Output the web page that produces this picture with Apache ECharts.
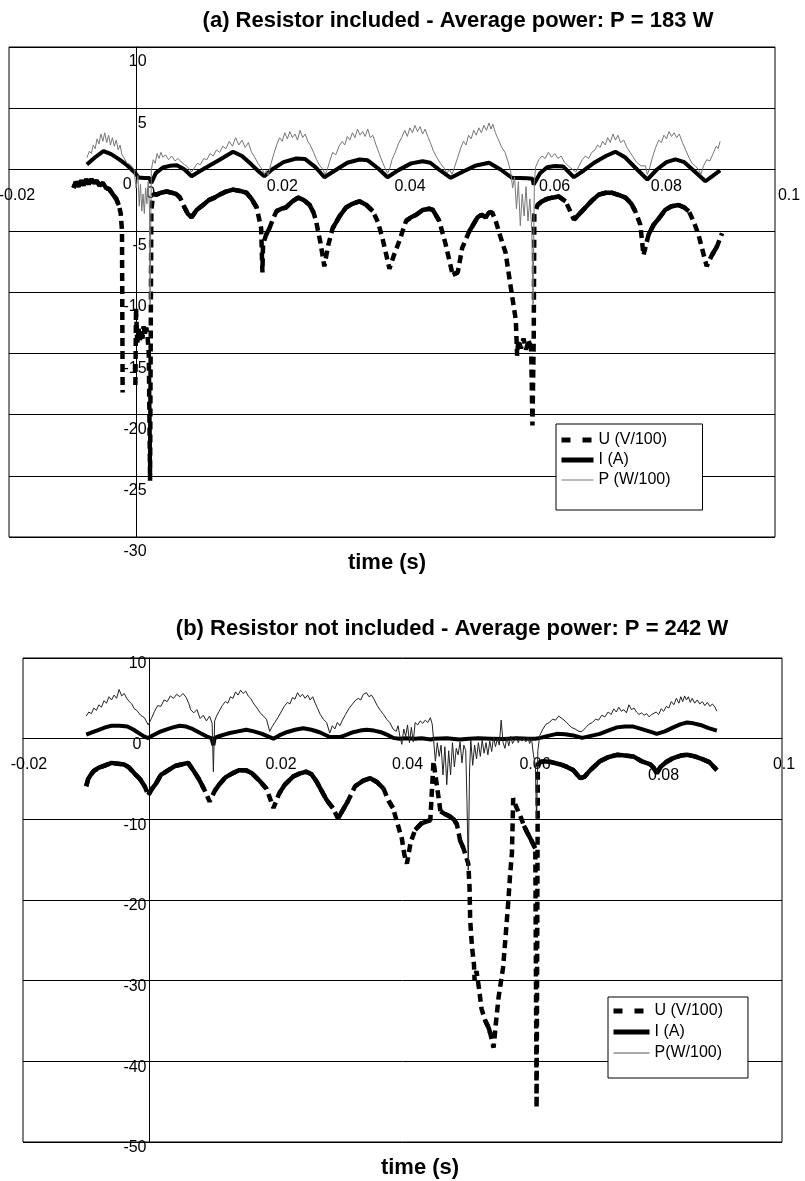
<!DOCTYPE html>
<html>
  <head>
    <meta charset="utf-8" />
    <title>Resistor included / not included</title>
    <script src="https://cdn.jsdelivr.net/npm/echarts@6.0.0/dist/echarts.min.js"></script>
    <style>body { margin: 0; background: #fff; }</style>
  </head>
  <body>
    <div id="chart" style="width: 805px; height: 1181px;"></div>
    <script type="text/javascript">
      // ---- data: [time (s), value] ----

      // (a) resistor included
      var uA = [[-0.0099,-1.5],[-0.0095,-1.0],[-0.0091,-1.4],[-0.0087,-0.9],[-0.0083,-1.3],[-0.0079,-0.8],[-0.0075,-1.2],
        [-0.0071,-0.8],[-0.0067,-1.1],[-0.0063,-0.9],[-0.0058,-1.3],[-0.0053,-1.1],[-0.0048,-1.5],[-0.0043,-1.6],
        [-0.0037,-2.05],[-0.0032,-2.4],[-0.0028,-2.9],[-0.0025,-3.6],[-0.0023,-5.0],[-0.0022,-18.2],[-0.0012,null],
        [-0.0002,-17.6],[-0.0001,-11.3],[0.0001,-14.3],[0.0003,-13.0],[0.0005,-14.0],[0.0007,-13.2],[0.0009,-13.8],
        [0.0011,-12.8],[0.0013,-13.4],[0.0015,-12.9],[0.0017,-13.6],[0.0019,-15.0],[0.0021,-25.4],[0.0022,-14.0],
        [0.0023,-3.3],[0.0026,-2.0],[0.0031,-2.05],[0.0038,-1.9],[0.0047,-1.8],[0.0055,-1.9],[0.0062,-2.0],
        [0.0068,-2.3],[0.0074,-3.0],[0.0080,-3.6],[0.0086,-3.9],[0.0094,-3.3],[0.0104,-2.9],[0.0113,-2.5],
        [0.0122,-2.3],[0.0130,-2.05],[0.0140,-1.8],[0.0151,-1.64],[0.0162,-1.75],[0.0172,-1.9],[0.0180,-2.4],
        [0.0188,-3.1],[0.0195,-4.8],[0.0197,-8.4],[0.0198,-6.1],[0.0203,-5.3],[0.0208,-4.8],[0.0214,-4.0],
        [0.0219,-3.4],[0.0227,-3.2],[0.0234,-3.1],[0.0244,-2.6],[0.0253,-2.3],[0.0262,-2.5],[0.0271,-2.9],
        [0.0277,-3.5],[0.0281,-4.2],[0.0288,-6.0],[0.0294,-7.9],[0.0300,-6.2],[0.0307,-4.8],[0.0318,-3.8],
        [0.0328,-3.1],[0.0338,-2.8],[0.0349,-2.6],[0.0360,-2.9],[0.0370,-3.4],[0.0378,-4.3],[0.0385,-5.6],
        [0.0396,-8.1],[0.0403,-7.0],[0.0411,-5.9],[0.0422,-4.2],[0.0430,-3.9],[0.0438,-3.7],[0.0448,-3.3],
        [0.0458,-3.2],[0.0464,-3.3],[0.0474,-4.2],[0.0484,-6.1],[0.0495,-8.6],[0.0503,-8.4],[0.0510,-6.4],
        [0.0521,-5.05],[0.0534,-3.9],[0.0540,-3.7],[0.0547,-3.9],[0.0552,-3.5],[0.0557,-3.5],[0.0563,-4.3],
        [0.0570,-5.5],[0.0578,-6.8],[0.0586,-9.6],[0.0594,-12.3],[0.0596,-15.2],[0.0598,-13.9],[0.0602,-14.6],
        [0.0606,-13.8],[0.0610,-14.7],[0.0614,-14.0],[0.0618,-14.5],[0.0620,-20.9],[0.0622,-14.0],[0.0623,-3.7],
        [0.0628,-2.9],[0.0635,-2.6],[0.0643,-2.4],[0.0651,-2.3],[0.0661,-2.2],[0.0672,-2.6],[0.0680,-3.5],
        [0.0685,-4.1],[0.0694,-3.6],[0.0703,-3.1],[0.0714,-2.5],[0.0724,-2.05],[0.0735,-1.9],[0.0745,-1.9],
        [0.0756,-2.1],[0.0766,-2.3],[0.0775,-2.8],[0.0781,-3.4],[0.0789,-4.5],[0.0794,-7.0],[0.0802,-5.3],
        [0.0810,-4.5],[0.0818,-4.0],[0.0828,-3.3],[0.0838,-3.0],[0.0849,-2.9],[0.0858,-3.1],[0.0865,-3.4],
        [0.0873,-4.3],[0.0880,-5.3],[0.0893,-7.9],[0.0901,-7.0],[0.0909,-6.3],[0.0917,-5.2]];

      var iA = [[-0.0078,0.41],[-0.0065,1.0],[-0.0052,1.5],[-0.0040,1.25],[-0.0028,0.85],[-0.0015,0.35],[-0.0003,-0.25],
        [0.0003,-0.65],[0.0012,-0.7],[0.0020,-0.7],[0.0023,-1.1],[0.0030,-0.3],[0.0041,0.16],[0.0052,0.3],
        [0.0063,0.35],[0.0075,0.0],[0.0086,-0.55],[0.0100,-0.1],[0.0115,0.35],[0.0130,0.8],[0.0151,1.45],
        [0.0165,1.1],[0.0180,0.4],[0.0192,-0.2],[0.0200,-0.55],[0.0212,0.0],[0.0230,0.6],[0.0250,0.9],
        [0.0264,0.85],[0.0280,0.2],[0.0294,-0.63],[0.0310,-0.1],[0.0330,0.55],[0.0349,0.82],[0.0362,0.75],
        [0.0378,0.1],[0.0393,-0.63],[0.0410,-0.05],[0.0430,0.5],[0.0448,0.68],[0.0460,0.55],[0.0476,-0.1],
        [0.0492,-0.68],[0.0510,-0.2],[0.0530,0.3],[0.0552,0.55],[0.0570,0.0],[0.0588,-0.68],[0.0600,-0.7],
        [0.0612,-0.72],[0.0620,-0.75],[0.0622,-1.23],[0.0632,-0.3],[0.0643,0.19],[0.0655,0.29],[0.0668,0.25],
        [0.0685,-0.63],[0.0700,-0.1],[0.0718,0.6],[0.0735,1.1],[0.0750,1.45],[0.0765,1.0],[0.0782,0.1],
        [0.0800,-0.82],[0.0815,0.0],[0.0830,0.6],[0.0844,0.82],[0.0858,0.6],[0.0875,-0.2],[0.0891,-0.96],
        [0.0903,-0.5],[0.0914,-0.08]];

      var pA = [[-0.0078,0.96],[-0.0074,1.5],[-0.0071,1.3],[-0.0068,2.0],[-0.0065,1.7],[-0.0062,2.5],[-0.0059,2.1],
        [-0.0056,2.9],[-0.0053,2.3],[-0.0050,3.0],[-0.0047,2.2],[-0.0044,2.8],[-0.0041,2.0],[-0.0038,2.6],
        [-0.0035,1.9],[-0.0032,2.4],[-0.0029,1.6],[-0.0026,2.0],[-0.0023,1.2],[-0.0020,0.96],[-0.0015,0.5],
        [-0.0010,0.4],[-0.0004,0.0],[-0.0001,-1.5],[0.0002,-0.5],[0.0004,-3.0],[0.0006,-1.2],[0.0008,-3.4],
        [0.0010,-2.0],[0.0012,-3.6],[0.0014,-1.5],[0.0016,-2.8],[0.0018,-1.0],[0.0020,-3.0],[0.0021,-11.0],
        [0.0022,-4.8],[0.0023,0.0],[0.0026,0.8],[0.0029,0.5],[0.0032,1.3],[0.0035,0.9],[0.0038,1.4],[0.0041,1.0],
        [0.0045,1.2],[0.0050,0.8],[0.0055,1.1],[0.0060,0.7],[0.0065,0.9],[0.0070,0.6],[0.0075,0.4],[0.0080,0.2],
        [0.0086,-0.2],[0.0090,0.1],[0.0095,0.5],[0.0100,0.4],[0.0105,0.9],[0.0110,0.8],[0.0115,1.3],[0.0120,1.1],
        [0.0125,1.6],[0.0130,1.4],[0.0135,1.9],[0.0140,1.7],[0.0145,2.3],[0.0150,1.9],[0.0155,2.6],[0.0160,2.0],
        [0.0165,2.4],[0.0170,1.8],[0.0175,2.2],[0.0180,1.4],[0.0185,1.0],[0.0190,0.5],[0.0197,0.0],[0.0200,-0.4],
        [0.0203,-0.1],[0.0206,-0.5],[0.0210,0.4],[0.0215,1.3],[0.0220,2.1],[0.0224,2.6],[0.0228,2.3],[0.0232,3.0],
        [0.0236,2.5],[0.0240,3.1],[0.0244,2.6],[0.0248,2.9],[0.0252,2.4],[0.0256,3.2],[0.0260,2.6],[0.0264,2.9],
        [0.0268,2.3],[0.0272,2.0],[0.0277,1.4],[0.0282,0.8],[0.0287,0.3],[0.0292,0.0],[0.0295,-0.4],[0.0298,-0.1],
        [0.0302,0.6],[0.0307,1.4],[0.0312,1.2],[0.0317,1.9],[0.0322,2.3],[0.0326,2.0],[0.0330,2.7],[0.0334,2.4],
        [0.0338,3.0],[0.0342,2.6],[0.0346,3.3],[0.0350,2.8],[0.0354,3.1],[0.0358,2.7],[0.0362,3.3],[0.0366,2.6],
        [0.0370,2.8],[0.0375,2.0],[0.0380,1.3],[0.0385,0.6],[0.0390,0.0],[0.0393,-0.3],[0.0396,0.0],[0.0400,0.8],
        [0.0405,1.4],[0.0410,2.1],[0.0415,2.6],[0.0420,3.2],[0.0424,2.7],[0.0428,3.4],[0.0432,3.0],[0.0436,3.6],
        [0.0440,3.1],[0.0444,3.5],[0.0448,2.9],[0.0452,3.3],[0.0456,2.7],[0.0460,2.2],[0.0465,1.5],[0.0470,1.0],
        [0.0476,0.5],[0.0482,0.1],[0.0486,-0.3],[0.0490,0.0],[0.0494,-0.4],[0.0498,0.2],[0.0503,1.0],[0.0508,1.8],
        [0.0512,2.3],[0.0516,2.0],[0.0520,2.8],[0.0524,2.5],[0.0528,3.2],[0.0532,2.8],[0.0536,3.4],[0.0540,3.0],
        [0.0544,3.6],[0.0548,3.2],[0.0552,3.8],[0.0555,3.3],[0.0558,3.7],[0.0562,3.0],[0.0567,2.4],[0.0572,1.8],
        [0.0577,1.4],[0.0582,0.6],[0.0586,-0.2],[0.0589,-1.5],[0.0592,-0.6],[0.0595,-3.2],[0.0598,-1.0],
        [0.0601,-4.6],[0.0604,-2.0],[0.0607,-3.8],[0.0610,-1.4],[0.0613,-4.2],[0.0616,-2.4],[0.0619,-5.0],
        [0.0621,-11.0],[0.0623,-1.0],[0.0625,0.2],[0.0630,0.8],[0.0635,1.1],[0.0640,0.9],[0.0645,1.4],[0.0650,1.0],
        [0.0655,1.3],[0.0660,0.9],[0.0665,1.1],[0.0670,0.6],[0.0676,0.3],[0.0683,0.0],[0.0688,-0.2],[0.0693,0.3],
        [0.0698,0.8],[0.0703,1.1],[0.0708,0.9],[0.0713,1.4],[0.0718,1.6],[0.0722,2.0],[0.0726,1.8],[0.0730,2.3],
        [0.0734,2.0],[0.0738,2.6],[0.0742,2.2],[0.0746,2.9],[0.0750,2.4],[0.0754,2.8],[0.0758,2.2],[0.0763,2.4],
        [0.0768,1.8],[0.0773,1.4],[0.0778,1.0],[0.0783,0.6],[0.0790,0.3],[0.0797,0.3],[0.0800,-0.4],[0.0803,0.0],
        [0.0808,1.0],[0.0813,1.8],[0.0818,2.4],[0.0822,2.2],[0.0826,2.8],[0.0830,2.5],[0.0834,3.1],[0.0838,2.7],
        [0.0842,3.0],[0.0846,2.6],[0.0850,2.9],[0.0855,2.2],[0.0860,1.6],[0.0865,1.0],[0.0870,0.5],[0.0875,0.3],
        [0.0880,0.0],[0.0884,-0.4],[0.0888,0.3],[0.0893,0.8],[0.0898,0.7],[0.0903,1.3],[0.0908,1.9],[0.0911,1.7],
        [0.0914,2.3]];

      // (b) resistor not included
      var uB = [[-0.0100,-5.9],[-0.0097,-5.0],[-0.0093,-4.5],[-0.0088,-4.0],[-0.0080,-3.6],[-0.0070,-3.3],[-0.0060,-3.0],
        [-0.0050,-3.1],[-0.0040,-3.2],[-0.0032,-3.6],[-0.0024,-4.3],[-0.0015,-5.0],[-0.0007,-6.0],[-0.0002,-7.0],
        [0.0004,-6.2],[0.0010,-5.6],[0.0018,-4.5],[0.0028,-4.0],[0.0040,-3.4],[0.0050,-3.2],[0.0061,-3.0],
        [0.0070,-4.0],[0.0078,-5.0],[0.0086,-6.2],[0.0095,-7.8],[0.0103,-6.5],[0.0110,-5.7],[0.0120,-4.8],
        [0.0131,-4.3],[0.0142,-3.9],[0.0152,-3.9],[0.0162,-4.3],[0.0175,-5.3],[0.0185,-6.2],[0.0196,-8.6],
        [0.0205,-6.8],[0.0214,-5.7],[0.0227,-4.7],[0.0238,-4.3],[0.0248,-4.1],[0.0256,-4.4],[0.0264,-5.3],
        [0.0280,-7.6],[0.0290,-8.6],[0.0298,-9.9],[0.0306,-8.8],[0.0314,-7.7],[0.0325,-5.9],[0.0338,-5.2],
        [0.0349,-4.9],[0.0360,-5.4],[0.0370,-6.2],[0.0378,-7.7],[0.0385,-8.6],[0.0392,-10.5],[0.0399,-12.4],
        [0.0403,-14.4],[0.0407,-15.5],[0.0413,-12.8],[0.0420,-11.3],[0.0430,-10.5],[0.0444,-10.1],[0.0449,-2.8],
        [0.0460,-9.0],[0.0466,-9.3],[0.0474,-9.6],[0.0481,-10.0],[0.0486,-10.6],[0.0491,-12.6],[0.0496,-13.5],
        [0.0500,-14.5],[0.0504,-15.5],[0.0506,-18.4],[0.0507,-22.5],[0.0510,-25.9],[0.0513,-28.0],[0.0514,-30.0],
        [0.0517,-28.8],[0.0521,-31.0],[0.0525,-33.5],[0.0531,-35.0],[0.0536,-35.8],[0.0539,-36.6],[0.0544,-38.3],
        [0.0548,-35.0],[0.0552,-32.0],[0.0559,-28.4],[0.0563,-24.5],[0.0567,-20.5],[0.0570,-17.0],[0.0573,-14.2],
        [0.0575,-7.4],[0.0580,-8.5],[0.0586,-9.5],[0.0592,-10.8],[0.0597,-11.6],[0.0603,-12.5],[0.0608,-13.3],
        [0.0610,-13.6],[0.0612,-45.8],[0.0614,-3.2],[0.0618,-2.9],[0.0623,-2.8],[0.0635,-2.9],[0.0650,-3.2],
        [0.0660,-3.5],[0.0670,-3.9],[0.0681,-4.9],[0.0688,-4.7],[0.0697,-3.9],[0.0712,-2.8],[0.0725,-2.3],
        [0.0739,-2.0],[0.0752,-2.1],[0.0765,-2.2],[0.0778,-2.8],[0.0792,-3.2],[0.0797,-3.6],[0.0802,-4.3],
        [0.0808,-3.5],[0.0817,-2.9],[0.0828,-2.4],[0.0840,-2.1],[0.0850,-2.0],[0.0862,-2.2],[0.0873,-2.5],
        [0.0885,-2.9],[0.0897,-3.9]];

      var iB = [[-0.0100,0.5],[-0.0090,0.8],[-0.0080,1.1],[-0.0070,1.4],[-0.0060,1.6],[-0.0047,1.6],[-0.0035,1.5],
        [-0.0025,1.1],[-0.0015,0.6],[-0.0008,0.25],[-0.0002,0.08],[0.0005,0.4],[0.0015,0.8],[0.0025,1.1],
        [0.0037,1.4],[0.0048,1.6],[0.0058,1.5],[0.0068,1.2],[0.0080,0.7],[0.0090,0.3],[0.0098,0.05],[0.0101,-0.8],
        [0.0103,0.1],[0.0110,0.3],[0.0118,0.5],[0.0127,0.7],[0.0140,0.9],[0.0153,1.1],[0.0165,0.9],[0.0178,0.6],
        [0.0190,0.2],[0.0196,0.0],[0.0205,0.4],[0.0217,0.8],[0.0230,1.1],[0.0243,1.3],[0.0256,1.1],[0.0269,0.8],
        [0.0285,0.2],[0.0301,0.2],[0.0312,0.5],[0.0322,0.8],[0.0333,1.0],[0.0343,1.1],[0.0355,1.0],[0.0366,0.8],
        [0.0378,0.4],[0.0385,0.1],[0.0395,0.0],[0.0405,0.05],[0.0420,0.0],[0.0430,0.05],[0.0445,-0.1],
        [0.0450,0.0],[0.0470,0.05],[0.0490,-0.1],[0.0505,0.0],[0.0520,0.05],[0.0540,0.0],[0.0560,-0.05],
        [0.0580,0.05],[0.0600,0.0],[0.0610,0.0],[0.0618,0.1],[0.0630,0.35],[0.0644,0.6],[0.0657,0.55],
        [0.0670,0.4],[0.0684,0.1],[0.0698,0.35],[0.0712,0.6],[0.0725,1.0],[0.0739,1.4],[0.0752,1.5],[0.0765,1.5],
        [0.0776,1.25],[0.0786,1.0],[0.0794,0.8],[0.0802,0.6],[0.0815,0.9],[0.0828,1.4],[0.0840,1.8],[0.0850,2.0],
        [0.0860,1.9],[0.0871,1.7],[0.0884,1.3],[0.0897,1.0]];

      var pB = [[-0.0100,2.8],[-0.0096,3.3],[-0.0092,3.1],[-0.0088,3.8],[-0.0084,3.5],[-0.0080,4.2],[-0.0076,3.9],
        [-0.0072,4.7],[-0.0068,4.4],[-0.0064,5.2],[-0.0060,4.8],[-0.0056,5.4],[-0.0052,5.0],[-0.0048,6.1],
        [-0.0044,5.3],[-0.0040,5.6],[-0.0036,5.0],[-0.0032,4.6],[-0.0028,4.3],[-0.0024,3.7],[-0.0020,3.5],
        [-0.0014,2.9],[-0.0008,2.6],[-0.0002,1.7],[0.0003,2.5],[0.0008,3.4],[0.0013,4.1],[0.0018,4.0],[0.0023,4.8],
        [0.0028,4.6],[0.0033,5.3],[0.0038,5.0],[0.0043,5.5],[0.0048,5.2],[0.0053,5.6],[0.0058,5.1],[0.0062,4.4],
        [0.0065,3.6],[0.0070,3.2],[0.0075,3.6],[0.0080,2.5],[0.0085,2.9],[0.0090,2.2],[0.0095,2.8],[0.0099,1.9],
        [0.0101,-4.1],[0.0103,2.2],[0.0106,2.8],[0.0110,3.4],[0.0115,4.1],[0.0120,4.6],[0.0124,4.4],[0.0128,5.2],
        [0.0132,5.0],[0.0136,5.8],[0.0140,5.4],[0.0144,6.0],[0.0148,5.6],[0.0152,5.9],[0.0156,5.3],[0.0160,5.0],
        [0.0165,4.3],[0.0170,3.8],[0.0175,3.2],[0.0180,2.8],[0.0185,2.4],[0.0190,0.9],[0.0194,1.5],[0.0198,2.0],
        [0.0203,2.6],[0.0208,3.3],[0.0213,4.0],[0.0218,4.5],[0.0222,4.3],[0.0226,5.1],[0.0230,4.9],[0.0234,5.7],
        [0.0238,5.2],[0.0242,5.5],[0.0246,5.0],[0.0250,5.4],[0.0254,4.8],[0.0258,5.2],[0.0262,4.4],[0.0266,3.7],
        [0.0270,3.0],[0.0275,2.4],[0.0280,2.0],[0.0285,0.7],[0.0289,1.6],[0.0293,1.2],[0.0297,2.0],[0.0301,1.6],
        [0.0305,2.3],[0.0310,3.0],[0.0315,3.7],[0.0320,4.2],[0.0325,4.7],[0.0330,5.0],[0.0334,4.8],[0.0338,5.5],
        [0.0343,5.7],[0.0347,5.2],[0.0351,5.4],[0.0355,4.9],[0.0360,4.1],[0.0365,3.5],[0.0370,3.0],[0.0375,2.4],
        [0.0380,2.0],[0.0385,1.2],[0.0390,0.9],[0.0393,1.6],[0.0396,0.2],[0.0399,-0.7],[0.0402,1.2],[0.0405,0.3],
        [0.0408,1.7],[0.0411,-0.5],[0.0414,1.4],[0.0417,-0.4],[0.0420,2.0],[0.0424,1.7],[0.0428,2.2],[0.0432,1.9],
        [0.0436,2.3],[0.0440,2.0],[0.0444,2.6],[0.0447,1.8],[0.0449,0.0],[0.0452,-2.8],[0.0455,-0.5],[0.0458,-2.2],
        [0.0461,-0.8],[0.0464,-4.5],[0.0467,-1.0],[0.0470,-5.7],[0.0473,-1.5],[0.0476,-4.5],[0.0479,-0.5],
        [0.0482,-3.5],[0.0485,-1.2],[0.0488,-2.0],[0.0491,-0.4],[0.0494,-3.0],[0.0497,-0.8],[0.0500,-1.5],
        [0.0502,-8.0],[0.0504,-16.3],[0.0506,-4.0],[0.0508,-0.2],[0.0511,-3.3],[0.0514,-0.8],[0.0517,-2.5],
        [0.0520,-0.5],[0.0523,-2.2],[0.0526,-0.2],[0.0529,-1.8],[0.0532,-0.5],[0.0535,-2.0],[0.0538,-0.3],
        [0.0541,-1.6],[0.0544,0.2],[0.0547,-1.0],[0.0550,0.0],[0.0553,-0.8],[0.0556,2.3],[0.0559,-0.5],
        [0.0562,-1.2],[0.0565,0.2],[0.0568,-0.9],[0.0571,0.3],[0.0574,-0.6],[0.0577,-0.2],[0.0580,0.3],
        [0.0583,-0.5],[0.0586,0.1],[0.0589,-0.3],[0.0592,0.1],[0.0595,-0.4],[0.0598,0.2],[0.0601,-0.6],[0.0604,0.0],
        [0.0607,-2.0],[0.0610,-3.2],[0.0612,-10.0],[0.0614,-1.5],[0.0617,0.4],[0.0622,1.2],[0.0627,1.8],
        [0.0632,2.0],[0.0637,2.4],[0.0642,2.3],[0.0647,2.8],[0.0652,2.5],[0.0657,2.2],[0.0662,1.8],[0.0667,1.4],
        [0.0673,1.2],[0.0679,0.9],[0.0684,0.9],[0.0690,1.4],[0.0695,1.8],[0.0700,2.0],[0.0705,2.4],[0.0710,2.3],
        [0.0715,2.9],[0.0720,2.7],[0.0725,3.3],[0.0730,3.0],[0.0734,3.7],[0.0738,3.3],[0.0742,3.9],[0.0746,3.4],
        [0.0750,3.6],[0.0754,3.2],[0.0758,4.2],[0.0762,3.6],[0.0766,3.8],[0.0770,3.3],[0.0774,3.0],[0.0778,3.2],
        [0.0782,2.9],[0.0786,3.1],[0.0790,2.7],[0.0794,3.0],[0.0797,2.8],[0.0801,3.3],[0.0805,3.0],[0.0809,3.7],
        [0.0813,3.4],[0.0817,4.0],[0.0821,3.8],[0.0825,4.6],[0.0829,4.2],[0.0833,5.0],[0.0837,4.4],[0.0840,5.2],
        [0.0843,4.6],[0.0846,5.3],[0.0849,4.8],[0.0852,5.2],[0.0855,4.5],[0.0858,5.0],[0.0862,4.4],[0.0866,4.8],
        [0.0870,4.3],[0.0874,4.6],[0.0878,4.1],[0.0882,4.5],[0.0886,4.0],[0.0890,4.3],[0.0894,3.9],[0.0897,3.4]];

      // tick labels
      var xLabelsA = ['-0.02', '0', '0.02', '0.04', '0.06', '0.08', '0.1'];
      var xLabelsB = ['-0.02', '', '0.02', '0.04', '0.06', '0.08', '0.1'];
      var legendA = ['U (V/100)', 'I (A)', 'P (W/100)'];
      var legendB = ['U (V/100)', 'I (A)', 'P(W/100)'];

      // ---- layout ----
      var FONT = '"Liberation Sans", Arial, sans-serif';
      var gridA = {left: 9, top: 47, width: 766, height: 490};
      var gridB = {left: 23, top: 658, width: 759, height: 484};
      // label nudges (px): horizontal shift of centre, extra drop below the axis
      var shiftA = [8, 14, 18, 18, 35, 19, 14], dropA = [18, 15, 0, 0, 0, 0, 18];
      var shiftB = [6, 0, 5, 5, 6, 8, 2], dropB = [0, 0, 0, 0, 0, 22, 0];

      function richFor(shift, drop) {
        var r = {};
        for (var k = 0; k < shift.length; k++) {
          r['k' + k] = {
            fontSize: 16, fontFamily: FONT, color: '#000', lineHeight: 16,
            padding: [drop[k], shift[k] < 0 ? -2 * shift[k] : 0, 0, shift[k] > 0 ? 2 * shift[k] : 0]
          };
        }
        return r;
      }

      // Excel draws short segments of a dashed series solid; only the long steep
      // strokes show the dash. Keep the gentle segments for a solid overlay.
      function gentle(pts, sx, sy) {
        var out = [];
        for (var k = 1; k < pts.length; k++) {
          var a = pts[k - 1], b = pts[k];
          if (a[1] == null || b[1] == null) continue;
          var dx = (b[0] - a[0]) * sx, dy = (b[1] - a[1]) * sy;
          if (Math.abs(dy) > 2 * Math.abs(dx) && Math.sqrt(dx * dx + dy * dy) > 8) {
            out.push([a[0], null]);
            continue;
          }
          var last = out[out.length - 1];
          if (!last || last[1] == null || last[0] !== a[0]) out.push(a);
          out.push(b);
        }
        return out;
      }

      var solidA = gentle(uA, gridA.width / 0.12, gridA.height / 40);
      var solidB = gentle(uB, gridB.width / 0.12, gridB.height / 60);

      var titleStyle = {fontSize: 22, fontWeight: 'bold', fontFamily: FONT, color: '#000'};

      // axes cross at (0, 0): shift them in from the grid edge by the zero's position
      function xAxisFor(gi, labels, shift, drop, margin, upOffset) {
        return {
          type: 'value', gridIndex: gi, min: -0.02, max: 0.1, interval: 0.02,
          position: 'bottom', offset: -upOffset,
          axisLine: {onZero: false, lineStyle: {color: '#000', width: 1}},
          axisTick: {show: false},
          splitLine: {show: false},
          axisLabel: {
            showMinLabel: true, showMaxLabel: true, align: 'center', margin: margin,
            formatter: function (v, idx) {
              var t = labels[idx];
              return t ? '{k' + idx + '|' + t + '}' : '';
            },
            rich: richFor(shift, drop)
          }
        };
      }

      function yAxisFor(gi, min, max, step, margin, pad, zeroPad, inOffset) {
        return {
          type: 'value', gridIndex: gi, min: min, max: max, interval: step,
          position: 'left', offset: -inOffset,
          axisLine: {show: true, onZero: false, lineStyle: {color: '#000', width: 1}},
          axisTick: {show: false},
          splitLine: {show: true, lineStyle: {color: '#000', width: 1}},
          axisLabel: {
            showMinLabel: true, showMaxLabel: true, margin: margin, align: 'right',
            verticalAlign: 'middle', padding: [pad, 0, 0, 0],
            fontSize: 16, fontFamily: FONT, color: '#000',
            formatter: function (v) { return v === 0 ? '{z|0}' : String(v); },
            rich: {z: {fontSize: 16, fontFamily: FONT, color: '#000', padding: [0, zeroPad, 0, 0]}}
          }
        };
      }

      function line(name, data, gi, width, color, dashed) {
        return {
          name: name, type: 'line', xAxisIndex: gi, yAxisIndex: gi, data: data,
          symbol: 'none', showSymbol: false, connectNulls: false, silent: true,
          itemStyle: {color: color},
          lineStyle: {color: color, width: width, type: dashed ? [8, 5] : 'solid', cap: 'butt'},
          emphasis: {disabled: true}
        };
      }

      function legendFor(names, pColor, left, top, padding, itemWidth, gap) {
        return {
          orient: 'vertical', left: left, top: top, padding: padding,
          itemWidth: itemWidth, itemHeight: 14, itemGap: gap,
          backgroundColor: '#fff', borderColor: '#000', borderWidth: 1, borderRadius: 0,
          selectedMode: false,
          itemStyle: {color: 'rgba(0,0,0,0)', borderWidth: 0, opacity: 0},
          textStyle: {fontSize: 16, fontFamily: FONT, color: '#000'},
          data: [
            {name: names[0], lineStyle: {color: '#000', width: 5, type: [9, 12], cap: 'butt'}},
            {name: names[1], lineStyle: {color: '#000', width: 5, type: 'solid'}},
            {name: names[2], lineStyle: {color: pColor, width: 1, type: 'solid'}}
          ]
        };
      }

      var chart = echarts.init(document.getElementById('chart'), null, {renderer: 'canvas'});

      chart.setOption({
        animation: false,
        backgroundColor: '#fff',
        title: [
          {text: '(a) Resistor included - Average power: P = 183 W', left: 458, top: 10, textAlign: 'center', padding: 0, textStyle: titleStyle},
          {text: 'time (s)', left: 387, top: 552, textAlign: 'center', padding: 0, textStyle: titleStyle},
          {text: '(b) Resistor not included - Average power: P = 242 W', left: 452, top: 618, textAlign: 'center', padding: 0, textStyle: titleStyle},
          {text: 'time (s)', left: 420, top: 1157, textAlign: 'center', padding: 0, textStyle: titleStyle}
        ],
        grid: [
          {left: gridA.left, top: gridA.top, width: gridA.width, height: gridA.height, show: true,
           borderColor: '#000', borderWidth: 1, outerBoundsMode: 'none', containLabel: false},
          {left: gridB.left, top: gridB.top, width: gridB.width, height: gridB.height, show: true,
           borderColor: '#000', borderWidth: 1, outerBoundsMode: 'none', containLabel: false}
        ],
        xAxis: [
          xAxisFor(0, xLabelsA, shiftA, dropA, 9, gridA.height * 30 / 40),
          xAxisFor(1, xLabelsB, shiftB, dropB, 18, gridB.height * 50 / 60)
        ],
        yAxis: [
          yAxisFor(0, -30, 10, 5, -10, 30, 15, gridA.width / 6),
          yAxisFor(1, -50, 10, 10, 3, 12, 5, gridB.width / 6)
        ],
        legend: [
          legendFor(legendA, '#777', 556, 424, [8, 32, 22, 3], 32, 4),
          legendFor(legendB, '#555', 608, 997, [6, 25, 17, 3], 36, 5)
        ],
        series: [
          line('U (V/100)', uA, 0, 4.5, '#000', true),
          line('U-a-solid', solidA, 0, 4.5, '#000', false),
          line('I (A)', iA, 0, 4, '#000', false),
          line('P (W/100)', pA, 0, 1, '#777', false),
          line('U (V/100)', uB, 1, 4.5, '#000', true),
          line('U-b-solid', solidB, 1, 4.5, '#000', false),
          line('I (A)', iB, 1, 4, '#000', false),
          line('P(W/100)', pB, 1, 1, '#222', false)
        ]
      });
    </script>
  </body>
</html>
